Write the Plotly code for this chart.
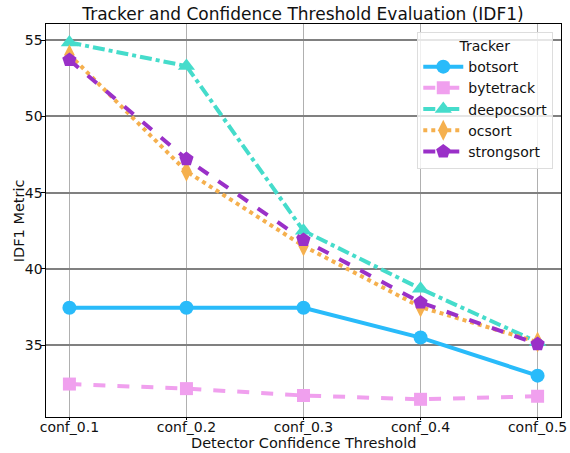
import plotly.graph_objects as go

thresholds = ["conf_0.1", "conf_0.2", "conf_0.3", "conf_0.4", "conf_0.5"]

botsort = [37.45, 37.45, 37.45, 35.5, 33.0]
bytetrack = [32.45, 32.15, 31.7, 31.45, 31.65]
deepocsort = [54.85, 53.3, 42.5, 38.7, 35.2]
ocsort = [54.05, 46.4, 41.5, 37.5, 35.2]
strongsort = [53.7, 47.2, 41.9, 37.8, 35.07]

y_ticks = [35, 40, 45, 50, 55]

series = [
    ("botsort", botsort, "#29BBFA", "solid", "circle", 14),
    ("bytetrack", bytetrack, "#F0A0EE", "dash", "square", 13),
    ("deepocsort", deepocsort, "#45DCCB", "dashdot", "triangle-up", 15),
    ("ocsort", ocsort, "#F5B04E", "dot", "diamond-tall", 15),
    ("strongsort", strongsort, "#9A30C8", "dash", "pentagon", 15),
]

fig = go.Figure()
for name, vals, color, dash, symbol, size in series:
    fig.add_trace(go.Scatter(
        x=list(range(len(thresholds))), y=vals, name=name, mode="lines+markers",
        line=dict(color=color, width=4, dash=dash),
        marker=dict(symbol=symbol, size=size, color=color, line=dict(width=0)),
    ))

font = "DejaVu Sans"
fig.update_layout(
    width=570, height=453,
    margin=dict(l=46, r=9, t=24, b=36, autoexpand=False),
    paper_bgcolor="white", plot_bgcolor="white",
    font=dict(family=font, color="#111111", size=14),
    title=dict(text="Tracker and Confidence Threshold Evaluation (IDF1)",
               x=0.5316, xanchor="center", y=0.969, yanchor="middle",
               font=dict(size=17, family=font)),
    showlegend=True,
    legend=dict(
        title=dict(text="Tracker", side="top center", font=dict(size=14)),
        x=0.985, y=0.98, xanchor="right", yanchor="top",
        bgcolor="rgba(255,255,255,0.8)", bordercolor="#DDDDDD", borderwidth=1,
        font=dict(size=14), itemwidth=40, tracegroupgap=0,
    ),
    annotations=[
        dict(text="Detector Confidence Threshold", xref="paper", yref="paper",
             x=0.5, y=-0.066, xanchor="center", yanchor="middle",
             showarrow=False, font=dict(size=14.5)),
        dict(text="IDF1 Metric", xref="paper", yref="paper",
             x=-0.053, y=0.5, xanchor="center", yanchor="middle", textangle=-90,
             showarrow=False, font=dict(size=14.5)),
    ],
)
fig.update_xaxes(
    range=[-0.2, 4.2], tickmode="array",
    tickvals=list(range(len(thresholds))), ticktext=thresholds,
    showgrid=True, gridcolor="#B0B0B0", gridwidth=1,
    showline=True, linecolor="black", linewidth=1.3, mirror=True,
    ticks="outside", ticklen=2, tickcolor="black", ticklabelstandoff=-5,
    zeroline=False, automargin=False,
)
fig.update_yaxes(
    range=[30.29, 56.06], tickmode="array", tickvals=y_ticks,
    showgrid=True, gridcolor="#808080", gridwidth=2,
    showline=True, linecolor="black", linewidth=1.3, mirror=True,
    ticks="outside", ticklen=3.5, tickcolor="black", ticklabelstandoff=-4,
    zeroline=False, automargin=False,
)

fig.write_html("out.html")
